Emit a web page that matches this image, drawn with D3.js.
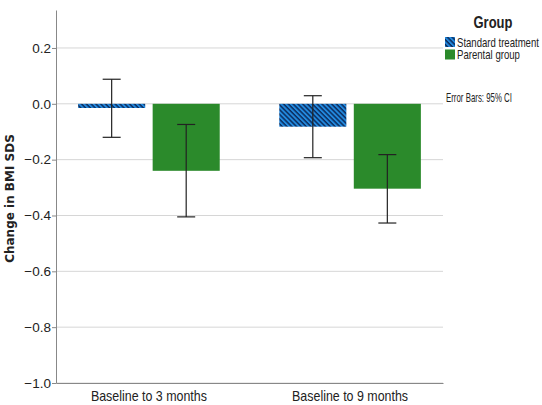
<!DOCTYPE html>
<html>
<head>
<meta charset="utf-8">
<script src="https://cdn.jsdelivr.net/npm/d3@7"></script>
<style>
  body { margin: 0; background: #fff; }
  text { font-family: "Liberation Sans", Arial, sans-serif; }
</style>
</head>
<body>
<svg id="chart" width="542" height="405"></svg>
<script>
const periods = ["Baseline to 3 months", "Baseline to 9 months"];
const groups = ["Standard treatment", "Parental group"];
const standardMeans = [-0.015, -0.082];
const standardLow = [-0.12, -0.193];
const standardHigh = [0.088, 0.029];
const parentalMeans = [-0.24, -0.304];
const parentalLow = [-0.405, -0.427];
const parentalHigh = [-0.074, -0.182];
const yTicks = [0.2, 0.0, -0.2, -0.4, -0.6, -0.8, -1.0];

const rows = [];
periods.forEach((p, i) => {
    rows.push({ period: p, group: groups[0], mean: standardMeans[i], lo: standardLow[i], hi: standardHigh[i] });
    rows.push({ period: p, group: groups[1], mean: parentalMeans[i], lo: parentalLow[i], hi: parentalHigh[i] });
});

const margin = { top: 10, right: 99, bottom: 22, left: 56 };
const width = 542 - margin.left - margin.right;
const height = 405 - margin.top - margin.bottom;

const root = d3.select('#chart');
const svg = root.append('g')
    .attr('transform', `translate(${margin.left},${margin.top})`);

// narrow text: squeeze a label sideways to a target width
function squeezed(parent, x, y, str, size, target, opts = {}) {
    const g = parent.append('g');
    const t = g.append('text')
        .attr('text-anchor', 'start')
        .style('font-size', size + 'px')
        .style('font-weight', opts.bold ? 'bold' : 'normal')
        .attr('fill', '#222')
        .text(str);
    const w = t.node().getComputedTextLength();
    const k = target / w;
    const anchorShift = opts.middle ? -target / 2 : 0;
    g.attr('transform', `translate(${x + anchorShift},${y}) scale(${k},1)`);
    return g;
}

// hatch for the standard treatment bars
const defs = root.append('defs');
const pat = defs.append('pattern')
    .attr('id', 'hatch')
    .attr('patternUnits', 'userSpaceOnUse')
    .attr('width', 3.4)
    .attr('height', 3.4)
    .attr('patternTransform', 'rotate(45)');
pat.append('rect').attr('width', 3.4).attr('height', 3.4).attr('fill', '#2289de');
pat.append('rect').attr('width', 3.4).attr('height', 1.5).attr('fill', '#0b2c5e');

const colors = { "Standard treatment": 'url(#hatch)', "Parental group": '#2b8a2b' };

const yScale = d3.scaleLinear().domain([-1.0, 0.336]).range([height, 0]);

const xScale = d3.scaleBand()
    .domain(periods)
    .range([0, width])
    .paddingInner(0.296)
    .paddingOuter(0.11);

const xSub = d3.scaleBand()
    .domain(groups)
    .range([0, xScale.bandwidth()])
    .paddingInner(0.1);

// gridlines
svg.selectAll('.grid')
    .data(yTicks)
    .enter()
    .append('line')
    .attr('class', 'grid')
    .attr('x1', 0)
    .attr('x2', width)
    .attr('y1', d => yScale(d))
    .attr('y2', d => yScale(d))
    .attr('stroke', '#d6d6d6')
    .attr('stroke-width', 1);

// bars
svg.selectAll('.bar')
    .data(rows)
    .enter()
    .append('rect')
    .attr('class', 'bar')
    .attr('x', d => xScale(d.period) + xSub(d.group))
    .attr('y', d => yScale(Math.max(0, d.mean)))
    .attr('width', xSub.bandwidth())
    .attr('height', d => Math.abs(yScale(d.mean) - yScale(0)))
    .attr('fill', d => colors[d.group]);

// error bars
const errs = svg.selectAll('.err')
    .data(rows)
    .enter()
    .append('g')
    .attr('class', 'err')
    .attr('stroke', '#222')
    .attr('stroke-width', 1.2);
const cx = d => xScale(d.period) + xSub(d.group) + xSub.bandwidth() / 2;
errs.append('line')
    .attr('x1', cx).attr('x2', cx)
    .attr('y1', d => yScale(d.hi)).attr('y2', d => yScale(d.lo));
errs.append('line')
    .attr('x1', d => cx(d) - 9).attr('x2', d => cx(d) + 9)
    .attr('y1', d => yScale(d.hi)).attr('y2', d => yScale(d.hi));
errs.append('line')
    .attr('x1', d => cx(d) - 9).attr('x2', d => cx(d) + 9)
    .attr('y1', d => yScale(d.lo)).attr('y2', d => yScale(d.lo));

// axes
const yAxis = svg.append('g').attr('class', 'y-axis')
    .call(d3.axisLeft(yScale).tickValues(yTicks).tickFormat(d3.format('.1f')).tickSize(4).tickSizeOuter(0));
yAxis.select('.domain').attr('stroke', '#888');
yAxis.selectAll('.tick line').attr('stroke', '#888');
yAxis.selectAll('text').style('font-size', '13.5px').attr('fill', '#222').attr('x', -5)
    .text(d => d3.format('.1f')(d).replace('-', '\u2212'));

const xAxis = svg.append('g').attr('class', 'x-axis')
    .attr('transform', `translate(0,${height})`)
    .call(d3.axisBottom(xScale).tickSize(0).tickSizeOuter(0));
xAxis.select('.domain').attr('stroke', '#888');
xAxis.selectAll('.tick text').remove();
periods.forEach(p => {
    squeezed(xAxis, xScale(p) + xScale.bandwidth() / 2, 18, p, 14.5, 116, { middle: true });
});

// y label
svg.append('text')
    .attr('transform', `translate(${-42},${height / 2 + 2}) rotate(-90)`)
    .attr('text-anchor', 'middle')
    .style('font-family', '"DejaVu Sans", sans-serif')
    .style('font-size', '12px')
    .style('font-weight', 'bold')
    .attr('fill', '#222')
    .text('Change in BMI SDS');

// legend
const legendLen = [82, 63];
const legend = root.append('g').attr('transform', 'translate(445,0)');
squeezed(legend, 48, 28, 'Group', 16, 39, { bold: true, middle: true });
groups.forEach((g, i) => {
    legend.append('rect')
        .attr('x', 0).attr('y', 37 + i * 12.5)
        .attr('width', 10).attr('height', 10)
        .attr('fill', colors[g]);
    squeezed(legend, 12, 46.5 + i * 12.5, g, 12, legendLen[i]);
});
squeezed(legend, 1, 102, 'Error Bars: 95% CI', 12.5, 66);
</script>
</body>
</html>
